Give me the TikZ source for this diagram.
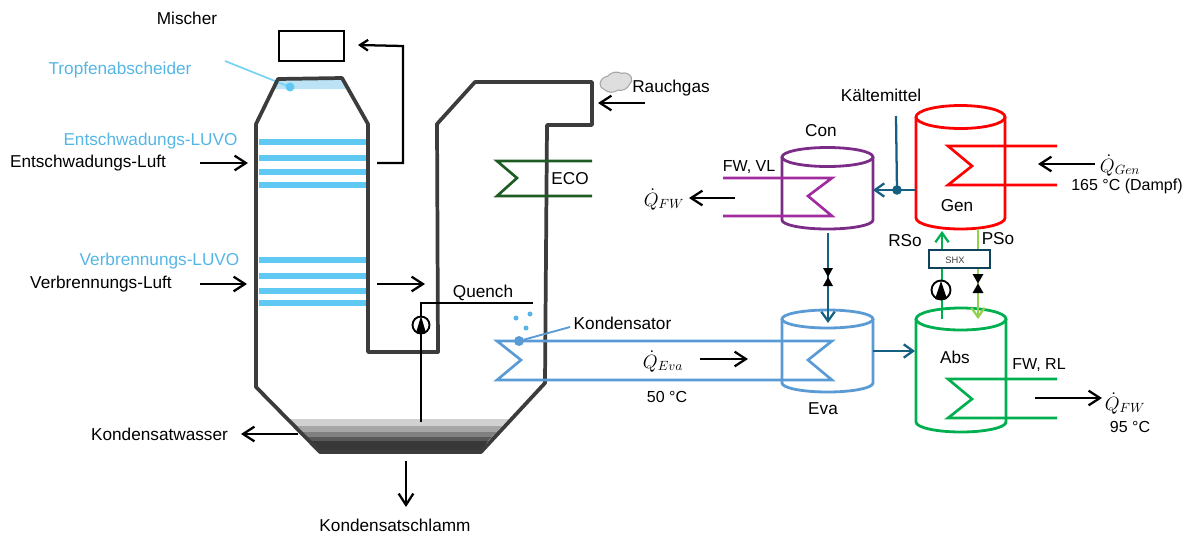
\documentclass[tikz,border=0pt]{standalone}
\usepackage{fontspec}
\setmainfont{Liberation Sans}
\usetikzlibrary{arrows.meta,shapes.symbols}
\definecolor{wandgrau}{HTML}{3C3C3C}
\definecolor{luvoblau}{HTML}{5FC9F3}
\definecolor{textblau}{HTML}{55B6E6}
\definecolor{evablau}{HTML}{5B9BD5}
\definecolor{kaelteblau}{HTML}{156082}
\definecolor{conlila}{HTML}{7B2C87}
\definecolor{fwlila}{HTML}{A12CA0}
\definecolor{absgruen}{HTML}{00B050}
\definecolor{psogruen}{HTML}{92D050}
\definecolor{ecogruen}{HTML}{1E5C24}
\begin{document}
\begin{tikzpicture}[x=0.75pt,y=-0.75pt,font=\fontsize{12.9}{15}\selectfont]
    % --- styles ---
    \tikzstyle{every node}=[yshift=-0.8pt]
    \tikzstyle{arrowstyle}=[-{Straight Barb[length=8.5pt,width=11pt,line width=1.7pt]}, line width=1.7pt, black]
    \tikzstyle{smallarrow}=[-{Straight Barb[length=6pt,width=8pt,line width=1.7pt]}, line width=1.7pt, black]
    \tikzstyle{wall}=[line width=2.8pt, wandgrau, line join=round]
    \tikzstyle{luvo}=[line width=5pt, luvoblau]
    \tikzstyle{vessel}=[line width=2.1pt]
    \tikzstyle{coil}=[line width=2pt, line join=miter]
    \tikzstyle{refrigerant}=[-{Straight Barb[length=7pt,width=10pt,line width=1.7pt]}, line width=1.7pt, kaelteblau]
    \tikzstyle{solution}=[-{Straight Barb[length=7pt,width=10pt,line width=1.7pt]}, line width=1.7pt]
    \tikzstyle{pumpring}=[draw=black, line width=1.4pt, fill=white]
    \tikzstyle{bluetext}=[textblau]
    \tikzstyle{mathtext}=[font=\fontsize{14}{16}\selectfont]

    \useasboundingbox (0,0) rectangle (1190,533);

    % 1. sump layers
    \fill[black!18] (290,419) -- (509,419) -- (502,426) -- (296,426) -- cycle;
    \fill[black!35] (296,426) -- (502,426) -- (497,432) -- (302,432) -- cycle;
    \fill[black!50] (302,432) -- (497,432) -- (492,437) -- (307,437) -- cycle;
    \fill[black!65] (307,437) -- (492,437) -- (488,441) -- (311,441) -- cycle;
    \fill[black!78] (311,441) -- (488,441) -- (481,452) -- (320,452) -- cycle;

    % 2. droplet separator and LUVO bars
    \fill[textblau!40] (278,80) -- (342,80) -- (348,89) -- (274,89) -- cycle;
    \draw[line width=1.3pt, luvoblau!85!white] (225,61) -- (290,87);
    \fill[luvoblau] (290,87) circle (4.5);
    % upper bundle
    \draw[luvo] (259,142) -- (367,142);
    \draw[luvo] (259,158) -- (367,158);
    \draw[luvo] (259,172) -- (367,172);
    \draw[luvo] (259,185) -- (367,185);
    % lower bundle
    \draw[luvo] (259,260) -- (367,260);
    \draw[luvo] (259,276) -- (367,276);
    \draw[luvo] (259,291) -- (367,291);
    \draw[luvo] (259,303) -- (367,303);

    % 3. scrubber wall and flue gas duct
    \draw[wall] (368,124) -- (342,78) -- (278,79) -- (256,124) -- (256,387) -- (320,452) -- (481,452) -- (545,383) -- (547,125) -- (592,125) -- (592,82) -- (475,82) -- (437,124) -- (438,352) -- (368,352) -- cycle;

    % 4. mixer
    \draw[line width=1.6pt] (279,31) rectangle (344,61);
    \draw[smallarrow] (377,163) -- (403,163) -- (403,46) -- (358,45);

    % 5. air, condensate and flue gas arrows
    \draw[arrowstyle] (200,163) -- (248,163);
    \draw[arrowstyle] (200,284) -- (247,284);
    \draw[arrowstyle] (377,284) -- (425,284);
    \draw[arrowstyle] (298,434) -- (241,434);
    \draw[arrowstyle] (406,461) -- (406,507);
    \draw[arrowstyle] (645,103) -- (598,103);

    % 6. quench line with pump
    \draw[line width=1.7pt] (421,422) -- (421,303) -- (533,303);
    \draw[pumpring] (421,325) circle (8.5);
    \fill[black] (421,316) -- (426,333) -- (416,333) -- cycle;
    \draw[line width=1.7pt] (421,331) -- (421,340);
    \fill[textblau] (516,318) circle (2.5);
    \fill[textblau] (530,314) circle (2.5);
    \fill[textblau] (526,328) circle (2.5);

    % 7. economiser
    \draw[coil, ecogruen] (592,161) -- (497,161) -- (517,178) -- (497,196) -- (592,196);

    % 8. flue gas cloud
    \node[cloud, cloud puffs=7, cloud puff arc=80, aspect=1.5, draw=black!35, fill=black!13, line width=0.8pt, inner sep=0pt, minimum width=24pt, minimum height=15pt, rotate=12] (cloudgas) at (616,81) {};

    % 9. condenser in the scrubber and evaporator
    \draw[vessel, evablau] (827.5,319) ellipse [x radius=45.5, y radius=9];
    \draw[vessel, evablau] (782,319) -- (782,383) arc [start angle=180, end angle=0, x radius=45.5, y radius=9] -- (873,319);
    \draw[coil, evablau] (519,341) -- (497,341) -- (521,360) -- (497,380) -- (832,380) -- (808,360) -- (832,341) -- cycle;
    \fill[evablau] (519,341) circle (5);
    \draw[line width=1.4pt, evablau] (519,341) -- (570,327);
    \draw[arrowstyle] (700,359) -- (748,359);

    % 10. condenser Con
    \draw[vessel, conlila] (827.5,157) ellipse [x radius=45.5, y radius=9.5];
    \draw[vessel, conlila] (782,157) -- (782,220) arc [start angle=180, end angle=0, x radius=45.5, y radius=9] -- (873,157);
    \draw[coil, fwlila] (723,178) -- (832,178) -- (808,196) -- (832,216) -- (723,216);
    \draw[arrowstyle] (735,198) -- (689,198);

    % 11. generator Gen
    \draw[vessel, red] (960.5,117) ellipse [x radius=44.5, y radius=11.5];
    \draw[vessel, red] (916,117) -- (916,218) arc [start angle=180, end angle=0, x radius=44.5, y radius=11] -- (1005,117);
    \draw[coil, red] (1057,146) -- (948,146) -- (972,166) -- (948,185) -- (1057,185);
    \draw[arrowstyle] (1095,164) -- (1038,164);

    % 12. absorber Abs
    \draw[vessel, absgruen] (961,319) ellipse [x radius=45, y radius=11];
    \draw[vessel, absgruen] (916,319) -- (916,422) arc [start angle=180, end angle=0, x radius=45, y radius=10] -- (1006,319);
    \draw[coil, absgruen] (1057,379) -- (948,379) -- (972,399) -- (948,418) -- (1057,418);
    \draw[arrowstyle] (1035,398) -- (1102,398);

    % 13. refrigerant lines
    \draw[line width=1.7pt, kaelteblau] (896,116) -- (897,190);
    \draw[refrigerant] (915,190) -- (873,190);
    \fill[kaelteblau] (897,190) circle (4.8);
    \draw[refrigerant] (828,233) -- (828,323);
    \fill[black] (823,268) -- (833,268) -- (823,286) -- (833,286) -- cycle;
    \draw[refrigerant] (873,351) -- (915,351);

    % 14. solution lines, SHX, pump and valve
    \draw[solution, absgruen] (942,319) -- (942,231);
    \draw[solution, psogruen] (978,229) -- (978,319);
    \draw[line width=1.2pt, draw=kaelteblau!70!black, fill=white] (929,250) rectangle (990,268);
    \draw[pumpring] (941,290) circle (9.5);
    \fill[black] (941,281) -- (947,299) -- (935,299) -- cycle;
    \fill[black] (972.5,274) -- (983.5,274) -- (972.5,293) -- (983.5,293) -- cycle;

    % 15. labels
    \node (mischer) at (187,17) {Mischer};
    \node[bluetext] (tropfen) at (120,69) {Tropfenabscheider};
    \node[bluetext] (ent-luvo) at (150.5,140) {Entschwadungs-LUVO};
    \node[black] (ent-luft) at (88,162) {Entschwadungs-Luft};
    \node[bluetext] (ver-luvo) at (159.5,260) {Verbrennungs-LUVO};
    \node (ver-luft) at (101,283) {Verbrennungs-Luft};
    \node (quench) at (483,292) {Quench};
    \node[anchor=west] (kondensator) at (569,322) {Kondensator};
    \node (wasser) at (159.5,433) {Kondensatwasser};
    \node (schlamm) at (395,524) {Kondensatschlamm};
    \node (rauchgas) at (671,87) {Rauchgas};
    \node (eco) at (570,178) {ECO};
    \node (kaelte) at (881,94) {Kältemittel};
    \node (con) at (821,130) {Con};
    \node (fwvl) at (749,166) {\fontsize{12}{14}\selectfont FW, VL};
    \node[mathtext] (qfwa) at (664,198) {$\dot{Q}_{FW}$};
    \node (gen) at (957,205) {Gen};
    \node[mathtext] (qgen) at (1120,164) {$\dot{Q}_{Gen}$};
    \node (dampf) at (1127,185) {\fontsize{12}{14}\selectfont 165 °C (Dampf)};
    \node (rso) at (905,240) {RSo};
    \node (pso) at (998,238) {PSo};
    \node[font=\fontsize{7}{8}\selectfont, black!75] (shx) at (955,259) {SHX};
    \node[mathtext] (qeva) at (663,360) {$\dot{Q}_{Eva}$};
    \node (temp50) at (667,396) {\fontsize{12}{14}\selectfont 50 °C};
    \node (eva) at (823,408) {Eva};
    \node (abs) at (955,356) {Abs};
    \node (fwrl) at (1039,364) {\fontsize{12}{14}\selectfont FW, RL};
    \node[mathtext] (qfwb) at (1125,402) {$\dot{Q}_{FW}$};
    \node (temp95) at (1130,426) {\fontsize{12}{14}\selectfont 95 °C};

\end{tikzpicture}
\end{document}
